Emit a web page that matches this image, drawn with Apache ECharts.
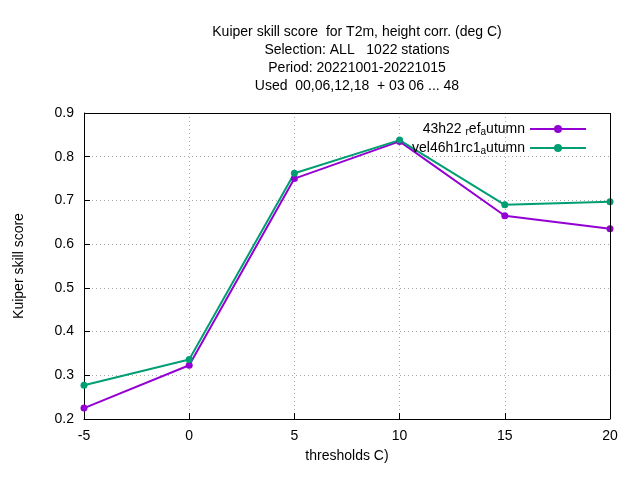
<!DOCTYPE html>
<html><head><meta charset="utf-8">
<script src="https://cdn.jsdelivr.net/npm/echarts@6/dist/echarts.min.js"></script>
<style>html,body{margin:0;background:#fff}#c{width:640px;height:480px}</style>
</head><body><div id="c"></div>
<script>
var thresholds = [-5, 0, 5, 10, 15, 20];
var refAutumn = [0.225, 0.323, 0.750, 0.835, 0.665, 0.635];
var velAutumn = [0.277, 0.336, 0.762, 0.838, 0.690, 0.697];

function pairs(v) { return thresholds.map(function (t, i) { return [t, v[i]]; }); }

var chart = echarts.init(document.getElementById('c'));
var font = 'Liberation Sans';
chart.setOption({
    animation: false,
    textStyle: { fontFamily: font },
    title: {
        text: 'Kuiper skill score  for T2m, height corr. (deg C)\nSelection: ALL   1022 stations\nPeriod: 20221001-20221015\nUsed  00,06,12,18  + 03 06 ... 48',
        left: 352, top: 18, textAlign: 'center',
        textStyle: { fontSize: 14, fontWeight: 'normal', color: '#000', lineHeight: 18, fontFamily: font }
    },
    legend: {
        right: 48, top: 117, orient: 'vertical', align: 'right', itemGap: 4,
        itemWidth: 56, itemHeight: 10,
        textStyle: { fontSize: 14, color: '#000', fontFamily: font,
            rich: { s: { fontSize: 10, verticalAlign: 'bottom', padding: [6, 0, 0, 0], fontFamily: font } } },
        formatter: function (n) {
            return n === 'ref' ? '43h22 {s|r}ef{s|a}utumn' : 'vel46h1rc1{s|a}utumn';
        },
        data: ['ref', 'vel']
    },
    grid: { left: 84, right: 30, top: 113, bottom: 61 },
    xAxis: {
        type: 'value', min: -5, max: 20, interval: 5,
        name: 'thresholds C)', nameLocation: 'middle', nameGap: 30,
        nameTextStyle: { fontSize: 14, color: '#000' },
        axisLine: { onZero: false, lineStyle: { color: '#000' } },
        axisTick: { inside: true, length: 6, lineStyle: { color: '#000' } },
        axisLabel: { fontSize: 14, color: '#000', margin: 10 },
        splitLine: { lineStyle: { color: '#aaa', type: [1, 3] } }
    },
    yAxis: {
        type: 'value', min: 0.2, max: 0.9, interval: 0.1,
        name: 'Kuiper skill score', nameLocation: 'middle', nameGap: 58,
        nameTextStyle: { fontSize: 14, color: '#000' },
        axisLine: { show: true, onZero: false, lineStyle: { color: '#000' } },
        axisTick: { inside: true, length: 6, lineStyle: { color: '#000' } },
        axisLabel: { fontSize: 14, color: '#000', margin: 10, formatter: function (v) { return v.toFixed(1); } },
        splitLine: { lineStyle: { color: '#aaa', type: [1, 3] } }
    },
    series: [
        { name: 'ref', type: 'line', data: pairs(refAutumn), color: '#9400d3',
          symbol: 'circle', symbolSize: 7, lineStyle: { width: 2 } },
        { name: 'vel', type: 'line', data: pairs(velAutumn), color: '#009e73',
          symbol: 'circle', symbolSize: 7, lineStyle: { width: 2 } },
        { type: 'line', data: [], markLine: { silent: true, symbol: 'none', label: { show: false },
          lineStyle: { color: '#000', type: 'solid', width: 1 },
          data: [[{ coord: [-5, 0.9] }, { coord: [20, 0.9] }], [{ coord: [20, 0.2] }, { coord: [20, 0.9] }]] } }
    ]
});
</script></body></html>
